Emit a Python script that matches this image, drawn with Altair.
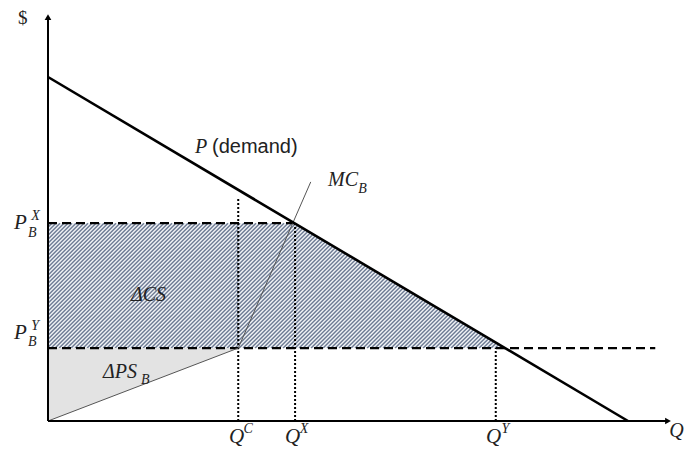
import altair as alt
import numpy as np
import pandas as pd

# ---- values (demand intercepts normalised to 100) ----
demand_Q = [0, 100]
demand_P = [100, 0]
Q_C, Q_X, Q_Y = 32.8, 42.6, 77.2
P_X, P_Y = 57.5, 21.2
mc_Q = [0, Q_C, 45.3]
mc_P = [0, P_Y, 69.5]
qc_dotted_top = 64.8
y_axis_top = 117.4
x_axis_end = 106.9
py_dash_end = 104.7

# ---- annotation texts and anchors (left edge, vertical centre) ----
main_text = ["P", "MC", "ΔCS", "ΔPS"]
main_q = [25.34, 48.28, 14.31, 9.48]
main_p = [79.65, 70.06, 36.63, 14.24]
tick_text = ["P", "P", "Q", "Q", "Q"]
tick_q = [-5.86, -5.86, 31.21, 40.86, 75.52]
tick_p = [57.56, 25.58, -4.6, -4.6, -4.6]
axis_q_text = ["Q"]
axis_q_q = [107.1]
axis_q_p = [-2.91]
small_text = ["B", "B", "X", "B", "Y", "B", "C", "X", "Y"]
small_q = [53.5, 16.03, -2.9, -3.45, -2.9, -3.45, 33.7, 43.4, 78.2]
small_p = [67.5, 11.92, 59.6, 54.6, 27.6, 22.9, -2.2, -2.2, -2.2]
sans_text = ["(demand)"]
sans_q = [28.28]
sans_p = [79.65]
dollar_text = ["$"]
dollar_q = [-5.17]
dollar_p = [117.15]

# ---- frame ----
W, H = 678, 441
X_DOM = [-6.8966, 110.0]
Y_DOM = [-8.1395, 120.058]
SX = W / (X_DOM[1] - X_DOM[0])
SY = H / (Y_DOM[1] - Y_DOM[0])

xs = alt.Scale(domain=X_DOM, nice=False, zero=False)
ys = alt.Scale(domain=Y_DOM, nice=False, zero=False)


def X(f="q"):
    return alt.X(f"{f}:Q", scale=xs, axis=None)


def Y(f="p"):
    return alt.Y(f"{f}:Q", scale=ys, axis=None)


def seg_chart(rows, **mark):
    df = pd.DataFrame(rows, columns=["q1", "p1", "q2", "p2"])
    return alt.Chart(df).mark_rule(**mark).encode(
        x=X("q1"), y=Y("p1"), x2="q2", y2="p2"
    )


# hatch lines for the consumer-surplus change region (45 degree in screen space)
def hatch_rows(spacing=4.0):
    rows = []
    q_dem_top = demand_Q[1]
    cmin = -P_X * SY
    cmax = (q_dem_top - P_Y) * SX - P_Y * SY
    for c in np.arange(cmin - spacing, cmax + spacing, spacing):
        lo = max(P_Y, -c / SY)
        hi = min(P_X, (q_dem_top - c / SX) / (1 + SY / SX))
        if hi > lo:
            rows.append([(lo * SY + c) / SX, lo, (hi * SY + c) / SX, hi])
    return rows


q_dem_at_py = demand_Q[1] * (1 - P_Y / demand_P[0])

cs_bg = alt.Chart(pd.DataFrame({
    "q": [0, Q_X, q_dem_at_py], "p": [P_X, P_X, P_Y], "p2": [P_Y] * 3
})).mark_area(color="#f1f3f6").encode(x=X(), y=Y(), y2="p2")

hatch = seg_chart(hatch_rows(), color="#6d7b94", strokeWidth=1.4)

ps_tri = alt.Chart(pd.DataFrame({
    "q": [0, Q_C], "p": [0, P_Y], "p2": [P_Y, P_Y]
})).mark_area(color="#e3e3e3").encode(x=X(), y=Y(), y2="p2")

dotted = seg_chart(
    [[Q_C, 0, Q_C, qc_dotted_top], [Q_X, 0, Q_X, P_X], [Q_Y, 0, Q_Y, P_Y]],
    color="black", strokeWidth=2, strokeDash=[2, 2],
)
dashed = seg_chart(
    [[0, P_X, Q_X, P_X], [0, P_Y, py_dash_end, P_Y]],
    color="black", strokeWidth=2.2, strokeDash=[9, 5],
)
mc = alt.Chart(pd.DataFrame({"q": mc_Q, "p": mc_P})).mark_line(
    color="#555555", strokeWidth=1
).encode(x=X(), y=Y())
demand = alt.Chart(pd.DataFrame({"q": demand_Q, "p": demand_P})).mark_line(
    color="black", strokeWidth=2.6
).encode(x=X(), y=Y())
axes = seg_chart(
    [[0, 0, 0, y_axis_top], [0, 0, x_axis_end, 0]],
    color="black", strokeWidth=2,
)
arrow_up = alt.Chart(pd.DataFrame({"q": [0], "p": [y_axis_top]})).mark_point(
    shape="triangle-up", filled=True, color="black", size=45, opacity=1, dy=3
).encode(x=X(), y=Y())
arrow_right = alt.Chart(pd.DataFrame({"q": [x_axis_end], "p": [0]})).mark_point(
    shape="triangle-right", filled=True, color="black", size=45, opacity=1, dx=-3
).encode(x=X(), y=Y())


def text_chart(texts, qs, ps, **mark):
    df = pd.DataFrame({"t": texts, "q": qs, "p": ps})
    return alt.Chart(df).mark_text(align="left", baseline="middle", color="#222222", **mark).encode(
        x=X(), y=Y(), text="t:N"
    )


main_lbl = text_chart(main_text, main_q, main_p, font="Liberation Serif",
                      fontStyle="italic", fontSize=20)
tick_lbl = text_chart(tick_text, tick_q, tick_p, font="Liberation Serif",
                      fontStyle="italic", fontSize=21)
axis_lbl = text_chart(axis_q_text, axis_q_q, axis_q_p, font="Liberation Serif",
                      fontStyle="italic", fontSize=20)
small_lbl = text_chart(small_text, small_q, small_p, font="Liberation Serif",
                       fontStyle="italic", fontSize=14)
sans_lbl = text_chart(sans_text, sans_q, sans_p, font="Liberation Sans", fontSize=20)
dollar_lbl = text_chart(dollar_text, dollar_q, dollar_p, font="Liberation Serif", fontSize=19)

chart = alt.layer(
    cs_bg, hatch, ps_tri, dotted, dashed, mc, demand, axes, arrow_up, arrow_right,
    main_lbl, tick_lbl, axis_lbl, small_lbl, sans_lbl, dollar_lbl,
).properties(
    width=W, height=H, autosize=alt.AutoSizeParams(type="none"), padding=0
).configure_view(stroke=None)

chart.save("out.html", embed_options={"renderer": "svg", "actions": False})
